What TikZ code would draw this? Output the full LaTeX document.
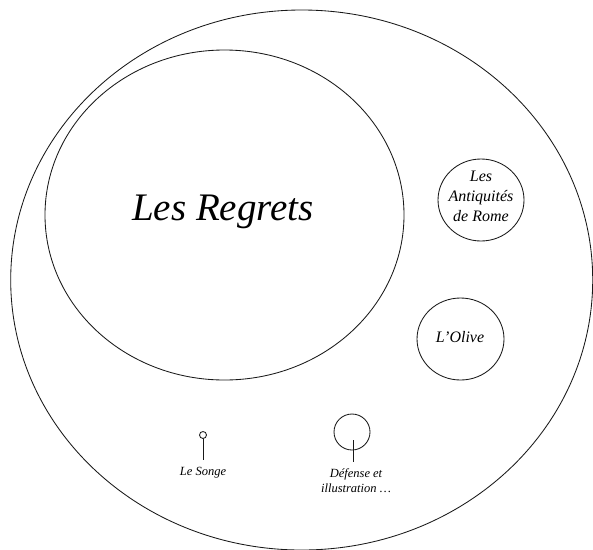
\documentclass[tikz,border=0pt]{standalone}
\usepackage{fontspec}
\setmainfont{Liberation Serif}[ItalicFont={Liberation Serif Italic}]
\usetikzlibrary{shapes.geometric}
\tikzset{
  ring/.style={draw=black!90, line width=0.85pt, ellipse, inner sep=0pt},
  lbl/.style={inner sep=0pt, align=center},
  stick/.style={draw=black!90, line width=0.85pt}
}
\begin{document}
\begin{tikzpicture}[x=1pt,y=-1pt]
\useasboundingbox (0,0) rectangle (593,549);
% outer ellipse
\node[ring, minimum width=582pt, minimum height=540pt] (outer) at (301.7,280) {};
% Les Regrets
\node[ring, minimum width=359pt, minimum height=330pt] (regrets) at (224.5,215) {};
\node[lbl, anchor=base, font=\itshape\fontsize{39}{44}\selectfont] (regretsT) at (223,220) {Les Regrets};
% Antiquites
\node[ring, minimum width=86pt, minimum height=82pt] (antiq) at (481,200) {};
\node[lbl, font=\itshape\fontsize{16}{20}\selectfont] (antiqT) at (481,196) {Les\\Antiquités\\de Rome};
% L'Olive
\node[ring, minimum width=87pt, minimum height=82pt] (olive) at (460.5,339) {};
\node[lbl, font=\itshape\fontsize{16}{20}\selectfont] (oliveT) at (460,337) {L’Olive};
% Le Songe
\node[ring, circle, minimum size=7pt] (songe) at (203,435) {};
\coordinate (songeEnd) at (203,460);
\draw[stick] (songe.south) -- (songeEnd);
\node[lbl, font=\itshape\fontsize{12.5}{15}\selectfont] (songeT) at (203,473) {Le Songe};
% Defense
\node[ring, circle, minimum size=36pt] (defense) at (352,432) {};
\coordinate (defStart) at (353,440);
\coordinate (defEnd) at (353,462);
\draw[stick] (defStart) -- (defEnd);
\node[lbl, font=\itshape\fontsize{12.5}{15}\selectfont] (defenseT) at (356,481) {Défense et\\illustration …};
\end{tikzpicture}
\end{document}
